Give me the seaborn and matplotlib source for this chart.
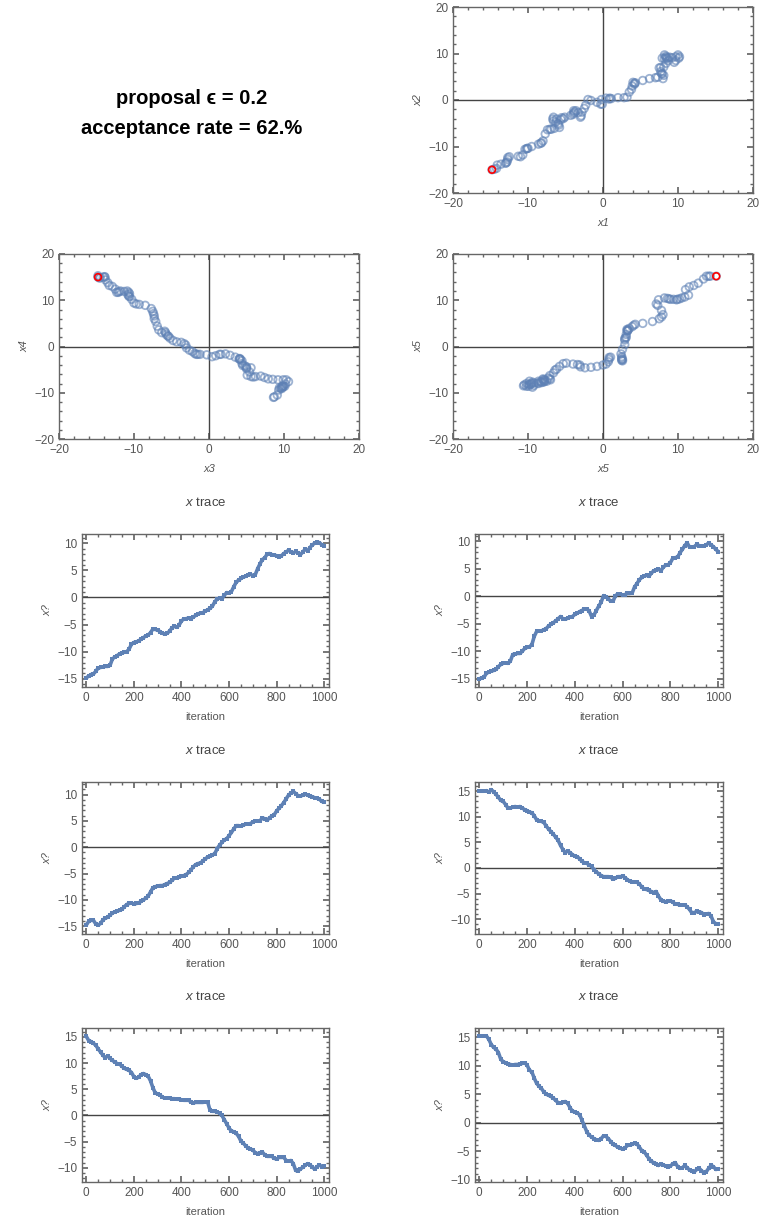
# MCMC proposal eps=0.2 : pair scatter plots + traces
import seaborn as sns
import matplotlib.pyplot as plt
from matplotlib.ticker import MultipleLocator

iterations = list(range(0, 1001, 10))

x1 = [-14.8, -14.5, -14.2, -14.1, -13.6, -13.0, -12.9, -12.8, -12.7, -12.7,
      -12.5, -11.3, -11.0, -10.7, -10.4, -10.2, -10.1, -10.0, -9.5, -8.6,
      -8.3, -8.2, -8.0, -7.7, -7.4, -7.1, -6.9, -6.5, -5.8, -5.9,
      -6.0, -6.3, -6.6, -6.7, -6.6, -6.2, -5.6, -5.3, -5.5, -5.1,
      -4.3, -4.0, -3.9, -3.8, -3.9, -3.6, -3.3, -3.0, -2.9, -2.8,
      -2.5, -2.3, -2.0, -1.6, -0.8, -0.3, -0.1, -0.2, 0.4, 0.9,
      0.8, 1.1, 2.0, 2.8, 3.2, 3.5, 3.8, 3.9, 4.2, 4.3,
      4.0, 4.2, 5.3, 6.2, 7.0, 7.3, 8.0, 8.1, 7.9, 7.8,
      7.7, 7.5, 7.7, 8.1, 8.4, 8.7, 8.4, 8.2, 8.5, 8.2,
      7.9, 8.4, 8.9, 8.6, 9.2, 9.7, 10.0, 10.2, 10.1, 9.7, 9.5]
x2 = [-15.0, -14.9, -14.7, -14.0, -13.8, -13.6, -13.5, -13.3, -12.8, -12.4,
      -12.2, -12.1, -12.2, -11.8, -10.6, -10.5, -10.4, -10.4, -10.0, -9.5,
      -9.3, -9.2, -8.8, -7.3, -6.4, -6.3, -6.3, -6.1, -5.9, -5.4,
      -5.1, -4.8, -4.5, -4.1, -3.7, -4.1, -4.2, -4.0, -3.8, -3.7,
      -3.3, -3.1, -2.8, -2.6, -2.3, -2.3, -2.7, -3.7, -3.4, -2.6,
      -1.8, -1.1, 0.1, -0.1, -0.5, -0.9, -0.9, 0.1, 0.4, 0.4,
      0.2, 0.3, 0.5, 0.5, 0.6, 1.7, 2.3, 3.0, 3.4, 3.7,
      3.8, 3.6, 4.2, 4.6, 4.8, 4.9, 4.6, 5.3, 5.6, 5.7,
      6.1, 6.9, 7.0, 7.1, 7.9, 8.5, 9.2, 9.7, 8.9, 8.9,
      9.0, 9.4, 9.2, 9.1, 9.1, 9.3, 9.7, 9.3, 9.0, 8.5, 8.1]
x3 = [-14.8, -14.1, -13.9, -13.9, -14.6, -14.8, -14.5, -13.8, -13.5, -13.3,
      -12.9, -12.5, -12.3, -12.1, -12.0, -11.8, -11.3, -10.9, -10.7, -10.6,
      -10.8, -10.7, -10.6, -10.3, -10.0, -9.7, -9.3, -8.5, -7.7, -7.5,
      -7.4, -7.3, -7.3, -7.1, -6.9, -6.7, -6.3, -5.9, -5.8, -5.7,
      -5.5, -5.4, -5.2, -4.8, -4.3, -3.7, -3.3, -3.1, -3.0, -2.6,
      -2.2, -1.9, -1.7, -1.5, -1.2, -0.3, 0.4, 0.9, 1.4, 1.6,
      2.2, 2.8, 3.5, 4.1, 4.1, 4.0, 4.2, 4.4, 4.4, 4.5,
      4.8, 5.0, 5.0, 5.0, 5.6, 5.4, 5.1, 5.6, 5.9, 6.2,
      6.9, 7.4, 7.9, 8.5, 9.2, 9.9, 10.3, 10.6, 10.2, 9.8,
      9.7, 9.9, 10.1, 9.9, 9.7, 9.6, 9.4, 9.3, 9.1, 8.7, 8.6]
x4 = [15.0, 15.0, 15.0, 15.1, 14.8, 15.3, 14.9, 14.4, 13.8, 13.2,
      13.0, 12.4, 11.7, 11.7, 11.9, 12.0, 11.9, 12.0, 11.7, 11.4,
      11.2, 10.9, 10.8, 10.2, 9.4, 9.2, 9.1, 8.9, 8.2, 7.6,
      7.1, 6.6, 6.0, 5.4, 4.4, 3.6, 3.0, 3.3, 3.0, 2.6,
      2.3, 2.2, 1.8, 1.3, 1.0, 0.9, 0.6, 0.3, -0.3, -0.8,
      -1.1, -1.5, -1.7, -1.7, -1.7, -1.8, -2.2, -2.0, -1.7, -1.7,
      -1.6, -1.9, -2.3, -2.6, -2.7, -2.7, -2.8, -3.1, -3.7, -4.1,
      -4.2, -4.4, -4.6, -4.8, -4.6, -5.5, -6.2, -6.5, -6.6, -6.5,
      -6.4, -6.7, -7.0, -7.1, -7.2, -7.2, -7.2, -7.6, -8.1, -8.8,
      -8.7, -8.5, -8.6, -8.7, -9.1, -9.0, -8.9, -9.4, -10.5, -10.9, -11.0]
x5 = [15.1, 14.3, 14.1, 13.8, 13.4, 12.7, 12.1, 11.5, 11.0, 11.4,
      10.9, 10.5, 10.2, 9.9, 9.8, 9.4, 9.0, 8.8, 8.6, 8.2,
      7.4, 7.1, 7.3, 7.8, 8.0, 7.8, 7.5, 6.6, 5.3, 4.3,
      4.1, 3.9, 3.5, 3.3, 3.3, 3.3, 3.2, 3.2, 3.1, 3.1,
      3.0, 2.9, 2.9, 2.9, 2.6, 2.4, 2.5, 2.5, 2.5, 2.5,
      2.6, 2.6, 1.0, 0.8, 0.8, 0.7, 0.4, 0.0, -0.8, -1.6,
      -2.4, -3.0, -3.1, -3.4, -4.0, -4.9, -5.3, -5.8, -6.2, -6.4,
      -6.6, -7.1, -7.3, -7.1, -7.0, -7.5, -7.8, -7.8, -7.8, -8.2,
      -8.3, -8.0, -8.0, -8.0, -8.6, -8.7, -8.6, -9.2, -10.5, -10.6,
      -10.2, -9.9, -9.5, -9.2, -9.4, -9.9, -10.2, -9.8, -9.4, -9.8, -9.6]
x6 = [15.2, 15.2, 15.2, 15.2, 14.6, 13.7, 13.2, 12.9, 12.3, 11.1,
      10.7, 10.5, 10.3, 10.2, 10.1, 10.2, 10.2, 10.3, 10.4, 10.5,
      10.1, 9.2, 8.9, 7.8, 6.9, 6.4, 6.0, 5.4, 5.0, 4.8,
      4.6, 4.3, 3.9, 3.5, 3.4, 3.6, 3.7, 3.4, 2.6, 2.0,
      1.9, 1.7, 1.4, 0.4, -0.6, -1.6, -2.2, -2.5, -2.8, -3.0,
      -3.1, -2.8, -2.3, -2.4, -2.8, -3.3, -3.8, -4.0, -4.3, -4.5,
      -4.6, -4.4, -4.0, -3.9, -3.8, -3.6, -3.7, -4.3, -4.9, -5.1,
      -5.7, -6.3, -6.8, -7.0, -7.2, -7.5, -7.2, -7.4, -7.6, -7.8,
      -7.6, -7.2, -7.0, -7.7, -8.0, -7.9, -7.5, -7.9, -8.3, -8.5,
      -8.6, -8.2, -8.0, -8.4, -8.8, -8.6, -8.0, -7.5, -7.7, -8.2, -8.1]

proposal_eps = 0.2
acceptance = 62

BLUE = '#5e81b5'
FRAME = '#666666'
TXT = '#555555'

sns.set_theme(style='ticks')
plt.rcParams['font.family'] = ['Liberation Sans', 'DejaVu Sans']
plt.rcParams['mathtext.fontset'] = 'custom'
plt.rcParams['mathtext.it'] = 'Liberation Sans:italic'
plt.rcParams['mathtext.rm'] = 'Liberation Sans'

fig = plt.figure(figsize=(7.8, 12.17), dpi=100)
W, H = 780, 1217


def box(l, r, t, b):
    return [l / W, (H - b) / H, (r - l) / W, (b - t) / H]


def style(ax, xmaj, xmin, ymaj, ymin):
    for sp in ax.spines.values():
        sp.set_visible(True)
        sp.set_color(FRAME)
        sp.set_linewidth(1.0)
    ax.xaxis.set_major_locator(MultipleLocator(xmaj))
    ax.xaxis.set_minor_locator(MultipleLocator(xmin))
    ax.yaxis.set_major_locator(MultipleLocator(ymaj))
    ax.yaxis.set_minor_locator(MultipleLocator(ymin))
    ax.tick_params(which='both', direction='in', top=True, right=True,
                   color=FRAME, labelcolor=TXT, labelsize=8.5)
    ax.tick_params(which='major', length=4)
    ax.tick_params(which='minor', length=2)


# text panel
fig.text(192 / W, 1 - 99 / H, f'proposal ϵ = {proposal_eps}', ha='center', va='center',
         fontsize=14.5, fontweight='bold', color='black')
fig.text(192 / W, 1 - 128 / H, f'acceptance rate = {acceptance}.%', ha='center', va='center',
         fontsize=14.5, fontweight='bold', color='black')

# pair scatter plots
pairs = [(x1, x2, 'x1', 'x2', box(453, 753, 7, 193)),
         (x3, x4, 'x3', 'x4', box(59, 359, 254, 439)),
         (x5, x6, 'x5', 'x5', box(453, 753, 254, 439))]
for xs, ys, xl, yl, rect in pairs:
    ax = fig.add_axes(rect)
    ax.axhline(0, color='#444444', lw=1, zorder=1)
    ax.axvline(0, color='#444444', lw=1, zorder=1)
    sns.scatterplot(x=xs, y=ys, ax=ax, s=30, marker='o', facecolor='none',
                    edgecolor=BLUE, linewidth=1.3, alpha=0.6, zorder=2)
    sns.scatterplot(x=xs[:1], y=ys[:1], ax=ax, s=24, marker='o', facecolor='none',
                    edgecolor='red', linewidth=1.2, zorder=3)
    ax.set_xlim(-20, 20)
    ax.set_ylim(-20, 20)
    style(ax, 10, 2, 10, 2)
    ax.set_xlabel(xl, fontsize=8, color=TXT, fontstyle='italic', labelpad=6)
    ax.set_ylabel(yl, fontsize=8, color=TXT, fontstyle='italic', labelpad=3)

# trace plots
traces = [x1, x2, x3, x4, x5, x6]
ylims = [(-16.5, 11.7), (-16.5, 11.3), (-16.5, 12.4),
         (-12.9, 16.8), (-12.7, 16.7), (-10.4, 16.6)]
cols = [(82, 329), (475, 723)]
rows = [(534, 687), (782, 934), (1028, 1182)]
for k, tr in enumerate(traces):
    l, r = cols[k % 2]
    t, b = rows[k // 2]
    ax = fig.add_axes(box(l, r, t, b))
    ax.axhline(0, color='#444444', lw=1, zorder=1)
    sns.lineplot(x=iterations, y=tr, ax=ax, color=BLUE, lw=2.6, marker='s',
                 markersize=2.8, markeredgewidth=0, zorder=2)
    ax.set_xlim(-18, 1020)
    ax.set_ylim(*ylims[k])
    style(ax, 200, 50, 5, 1)
    ax.set_xlabel('iteration', fontsize=8, color=TXT, labelpad=6)
    ax.set_ylabel('x?', fontsize=8, color=TXT, fontstyle='italic', labelpad=3)
    ax.set_title('$x$ trace', fontsize=9.5, color='#444444', pad=20)

plt.savefig('out.png', dpi=100)
